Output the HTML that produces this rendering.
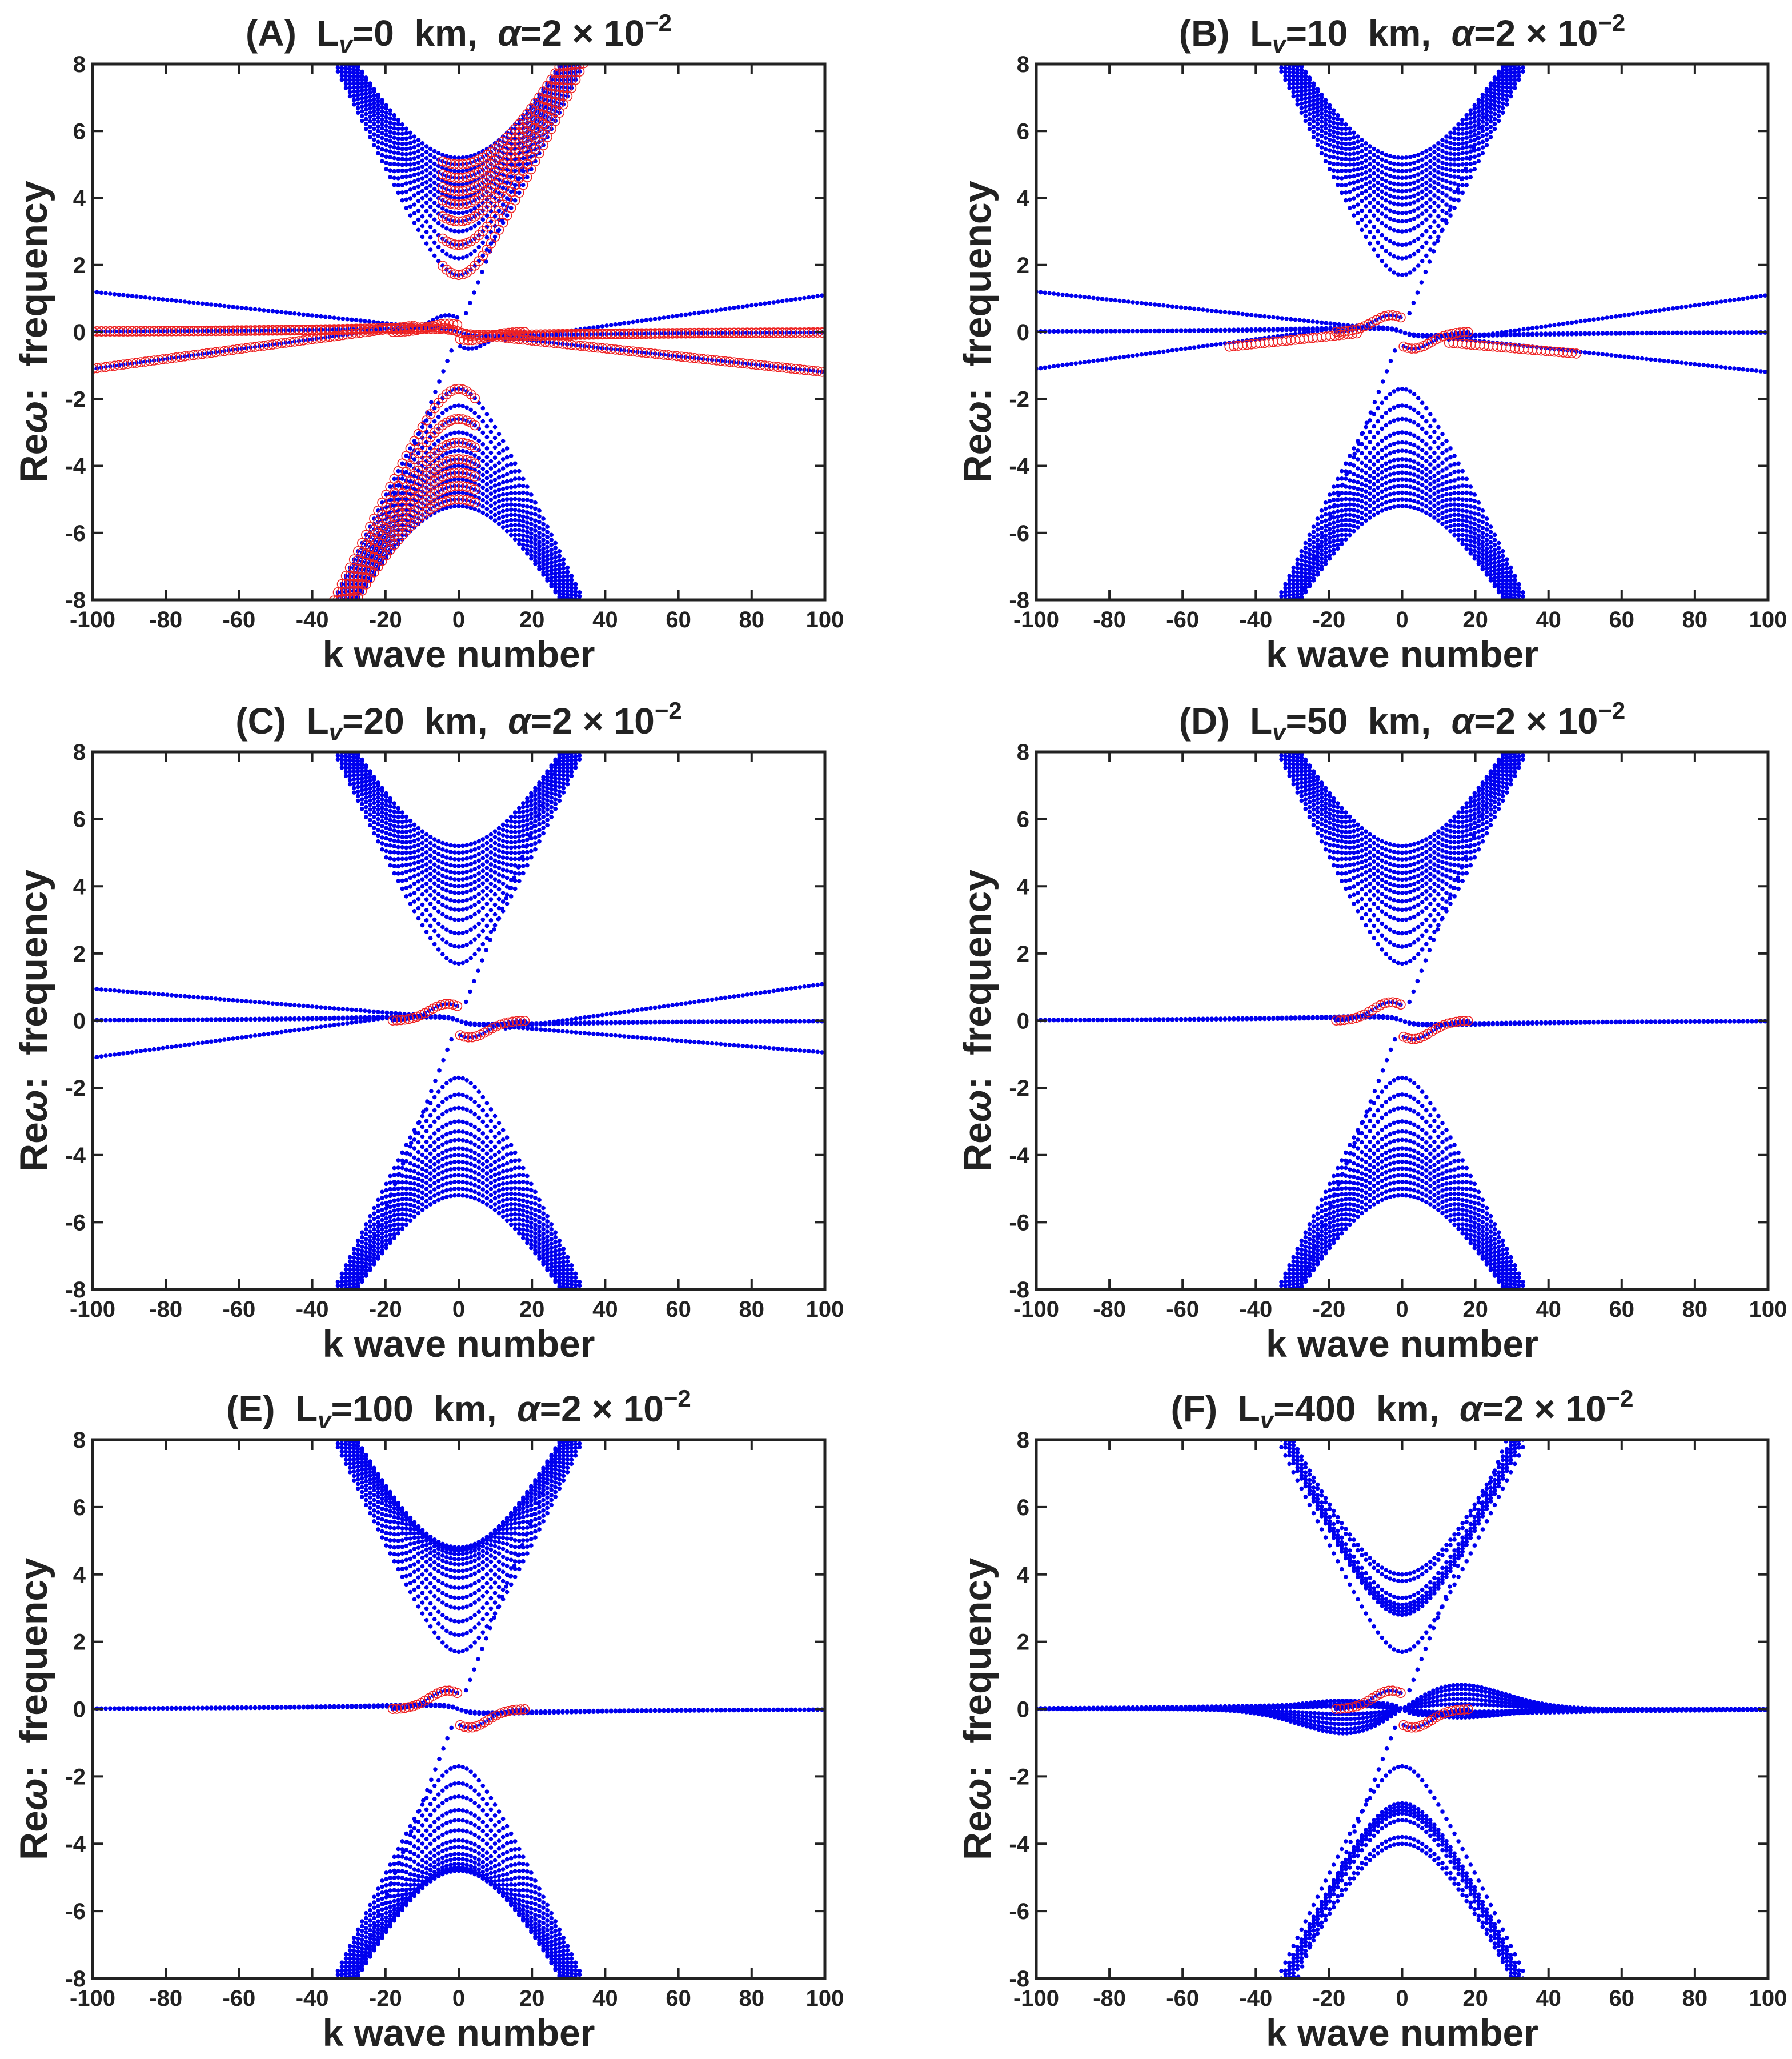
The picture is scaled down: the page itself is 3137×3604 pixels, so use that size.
<!DOCTYPE html>
<html><head><meta charset="utf-8"><style>
html,body{margin:0;padding:0;background:#fff}
svg{display:block}
text{font-family:"Liberation Sans Narrow","Liberation Sans",sans-serif;font-weight:bold;fill:#222;white-space:pre}
</style></head><body>
<svg id="fig" width="3137" height="3604" viewBox="0 0 3137 3604" xmlns="http://www.w3.org/2000/svg"></svg>
<script>
// ---- data (estimates) ----
const panelLetters = ["A","B","C","D","E","F"];
const panelLv = ["0","10","20","50","100","400"];
const xTicks = [-100,-80,-60,-40,-20,0,20,40,60,80,100];
const yTicks = [-8,-6,-4,-2,0,2,4,6,8];
// band minima |omega| at k=0 per panel
const bandMinA = [1.7,2.2,2.6,3.0,3.3,3.55,3.8,4.0,4.2,4.4,4.6,4.8,5.0,5.2];
const bandMinB = [1.7,2.2,2.6,3.0,3.3,3.55,3.8,4.0,4.2,4.4,4.6,4.8,5.0,5.2];
const bandMinC = [1.7,2.2,2.6,3.0,3.3,3.55,3.8,4.0,4.2,4.4,4.6,4.8,5.0,5.2];
const bandMinD = [1.7,2.2,2.6,3.0,3.3,3.55,3.8,4.0,4.2,4.4,4.6,4.8,5.0,5.2];
const bandMinE = [1.7,2.2,2.6,3.0,3.3,3.6,3.9,4.1,4.3,4.45,4.6,4.7,4.75,4.8];
const bandMinF = [1.7,2.8,2.9,3.0,3.1,3.3,3.8,4.0];
// k where each band reaches omega=8 (inner to outer)
const bandK8A = [34,33.5,33,32.5,32,31.5,31,30.5,30,29.5,29,28.5,28,27.8];
const bandK8F = [34,33,32.5,32,31.5,31,30.5,30];
// slope line end values at k=100 per panel
const slopeEnd = [1.2,1.2,0.95,0,0,0];
// bump peak near k=-3 per panel
const bumpPeak = [0.5,0.5,0.5,0.55,0.55,0.55];
// F lobe amplitudes at k=16
const lobeAmpF = [0.72,0.6,0.45,0.3,0.15,-0.1,-0.25];
const diagSlope = 0.28;

const cols = [[162,1444],[1814,3095]];
const rows = [[112,1050],[1316,2257],[2520,3463]];
const svg = document.getElementById('fig');
const NS = 'http://www.w3.org/2000/svg';
function mk(tag, attrs, parent){const e=document.createElementNS(NS,tag);for(const a in attrs)e.setAttribute(a,attrs[a]);(parent||svg).appendChild(e);return e;}

const bandSets = [bandMinA,bandMinB,bandMinC,bandMinD,bandMinE,bandMinF];

panelLetters.forEach((L,p)=>{
  const [x0,x1]=cols[p%2], [y0,y1]=rows[Math.floor(p/2)];
  const xs=k=>x0+(k+100)/200*(x1-x0);
  const ys=w=>y1-(w+8)/16*(y1-y0);
  const g=mk('g',{});
  
  
  const cp=mk('clipPath',{id:'clip'+p},g);
  mk('rect',{x:x0,y:y0,width:x1-x0,height:y1-y0},cp);
  const blue=mk('g',{'clip-path':'url(#clip'+p+')',fill:'#0000ee'},g);
  
  
  const red=mk('g',{'clip-path':'url(#clip'+p+')',fill:'none',stroke:'#ee2222','stroke-width':1.6},g);
  
  
  let bd='',rd='';
  const r=3.8;
  const dot=(k,w)=>{if(w<-8.5||w>8.5)return;const X=xs(k),Y=ys(w);bd+=`M${(X-r).toFixed(1)} ${Y.toFixed(1)}a${r} ${r} 0 1 0 ${2*r} 0a${r} ${r} 0 1 0 ${-2*r} 0`;};
  const circ=(k,w)=>{if(w<-8.5||w>8.5)return;const X=xs(k),Y=ys(w);rd+=`M${(X-8).toFixed(1)} ${Y.toFixed(1)}a8 8 0 1 0 16 0a8 8 0 1 0 -16 0`;};
  const mins=bandSets[p], k8s=(p===5?bandK8F:bandK8A);
  mins.forEach((w0,i)=>{
    const c=Math.sqrt(Math.max(64-w0*w0,1))/k8s[i];
    for(let k=-36.3;k<=36.3;k+=1.1){
      const w=Math.sqrt(w0*w0+c*c*k*k);
      dot(k,w);dot(k,-w);
      if(p===0&&i%2===0){ if(k>=-5)circ(k,w); if(k<=5)circ(k,-w); }
    }
  });
  // diagonal branches through origin
  for(let k=2;k<=32;k+=1.1){dot(k,diagSlope*k);dot(-k,-diagSlope*k);}
  // bump
  for(let k=-18;k<=0;k+=1.1){
    const w=bumpPeak[p]*Math.exp(-Math.pow((k+3)/7,2));
    dot(k,w);dot(-k,-w);
    if(p>0){circ(k,w);circ(-k,-w);} else {circ(k,w*0.5);circ(-k,-w*0.5);}
  }
  // near-zero flat lines
  const nFlat = p===5?3:2;
  for(let j=0;j<nFlat;j++){
    for(let k=-100;k<=100;k+=1.2){
      const w=-(0.12+0.06*j)*Math.sign(k)*Math.exp(-Math.abs(k)/45)*(1-Math.exp(-Math.abs(k)/3));
      dot(k,w);
      if(p===0)circ(k,w);
    }
  }
  // slope lines
  if(slopeEnd[p]>0){
    const s=slopeEnd[p];
    for(let k=-100;k<=100;k+=1.2){
      if(Math.abs(k)<12)continue;
      const wa=k<0? 0.2+(s-0.2)*((-k-15)/85) : -0.2+(1.1+0.2)*((k-15)/85);
      const wb=k<0? 0.15+(-1.1-0.15)*((-k-15)/85) : -0.2+(-s+0.2)*((k-15)/85);
      dot(k,wa);dot(k,wb);
      if(p===0){ circ(k,wb); }
      if(p===1&&Math.abs(k)<48){ circ(k, k<0? 0.1+(-0.45-0.1)*((-k)/48) : -0.3+(-0.65+0.3)*((k-10)/38)); }
    }
  }
  // F lobes
  if(p===5){
    lobeAmpF.forEach(A=>{
      for(let k=0.8;k<=100;k+=1.1){
        const u=k/16, w=A*u*Math.exp((1-u*u)/2);
        dot(k,w);dot(-k,-w);
      }
    });
  }
  mk('path',{d:bd},blue);
  mk('path',{d:rd},red);
  // axes box
  const box=mk('rect',{x:x0,y:y0,width:x1-x0,height:y1-y0,fill:'none',stroke:'#222','stroke-width':5},g);
  
  
  let td='';
  xTicks.forEach(t=>{const X=xs(t);td+=`M${X} ${y1}v-18M${X} ${y0}v18`;
    const tx=mk('text',{x:X,y:y1+48,'text-anchor':'middle','font-size':40},g);tx.textContent=t;
    
    });
  yTicks.forEach(t=>{const Y=ys(t);td+=`M${x0} ${Y}h18M${x1} ${Y}h-18`;
    const ty=mk('text',{x:x0-12,y:Y+14,'text-anchor':'end','font-size':40},g);ty.textContent=t;
    
    });
  mk('path',{d:td,stroke:'#222','stroke-width':4,fill:'none'},g);
  const xt=mk('text',{x:(x0+x1)/2,y:y1+118,'text-anchor':'middle','font-size':66},g);xt.textContent='k wave number';
  
  
  const yt=mk('text',{x:0,y:0,'text-anchor':'middle','font-size':68,transform:`translate(${x0-80},${(y0+y1)/2}) rotate(-90)`},g);
  yt.innerHTML='Re<tspan font-style="italic">ω</tspan>:  frequency';
  
  
  const tt=mk('text',{x:(x0+x1)/2,y:y0-32,'text-anchor':'middle','font-size':64},g);
  tt.innerHTML=`(${L})  L<tspan font-size="42" font-style="italic" dy="12">v</tspan><tspan dy="-12">=${panelLv[p]}  km,  </tspan><tspan font-style="italic">α</tspan>=2 × 10<tspan font-size="42" dy="-26">−2</tspan>`;
  
  
});
</script>
</body></html>
